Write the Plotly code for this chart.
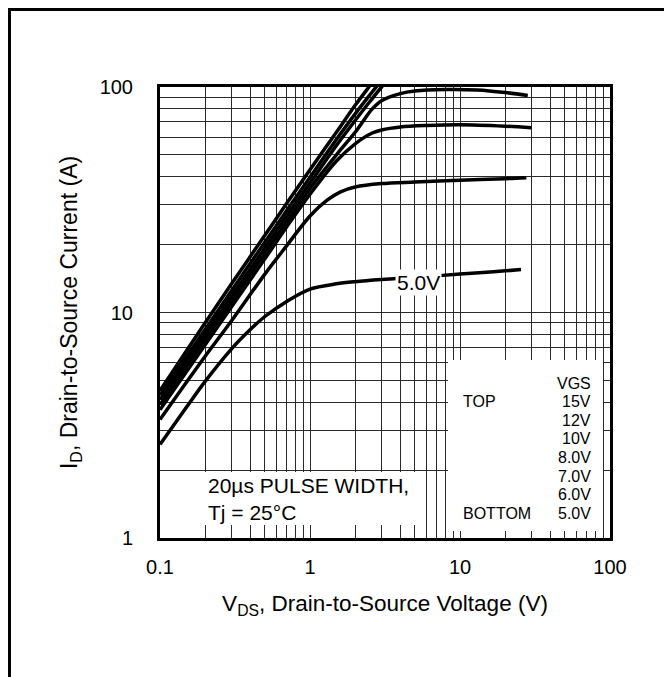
import plotly.graph_objects as go

# ---- data (VDS in V, ID in A) ----
vgs_labels = ["15V", "12V", "10V", "8.0V", "7.0V", "6.0V", "5.0V"]

vds_15v = [0.1, 0.2, 0.3, 0.5, 0.7, 1.0, 1.5, 2.0, 2.5, 3.0, 3.5]
id_15v = [4.5, 9.0, 13.4, 22.0, 30.5, 43.0, 63.0, 83.0, 101.0, 118.0, 133.0]

vds_12v = [0.1, 0.2, 0.3, 0.5, 0.7, 1.0, 1.5, 2.0, 2.5, 3.0, 3.5]
id_12v = [4.3, 8.4, 12.5, 20.5, 28.3, 39.8, 58.5, 76.0, 92.0, 107.0, 120.0]

vds_10v = [0.1, 0.2, 0.3, 0.5, 0.7, 1.0, 1.5, 2.0, 2.5, 3.0, 3.5]
id_10v = [4.1, 8.0, 11.8, 19.3, 26.8, 37.5, 55.0, 71.0, 86.0, 100.0, 112.0]

vds_8v = [0.1, 0.2, 0.3, 0.5, 0.7, 1.0, 1.5, 2.0, 2.6, 3.0, 4.0, 5.0, 8.0, 13.0, 20.0, 28.3]
id_8v = [3.9, 7.6, 11.2, 18.3, 25.3, 35.5, 50.0, 63.0, 80.0, 87.0, 93.5, 96.0, 97.5, 97.0, 94.5, 91.6]

vds_7v = [0.1, 0.2, 0.3, 0.5, 0.7, 1.0, 1.5, 2.0, 2.6, 3.0, 4.0, 6.0, 10.0, 20.0, 29.9]
id_7v = [3.7, 7.2, 10.6, 17.3, 24.0, 33.5, 47.0, 56.0, 62.5, 64.5, 66.5, 67.5, 68.0, 67.0, 66.0]

vds_6v = [0.1, 0.15, 0.2, 0.3, 0.5, 0.7, 1.0, 1.3, 1.6, 2.0, 3.0, 5.0, 10.0, 20.0, 27.7]
id_6v = [3.35, 4.9, 6.4, 9.2, 14.8, 19.8, 26.8, 31.5, 34.3, 36.0, 37.3, 37.9, 38.6, 39.2, 39.6]

vds_5v = [0.1, 0.15, 0.2, 0.3, 0.4, 0.5, 0.7, 1.0, 1.5, 2.0, 3.0, 5.0, 10.0, 15.0, 20.0, 25.5]
id_5v = [2.6, 3.8, 4.95, 6.9, 8.4, 9.6, 11.2, 12.7, 13.4, 13.7, 14.0, 14.3, 14.8, 15.1, 15.3, 15.5]

x_decades = [0.1, 1, 10, 100]
x_decade_labels = ["0.1", "1", "10", "100"]
y_decades = [1, 10, 100]
y_decade_labels = ["1", "10", "100"]
minor_multipliers = [2, 3, 4, 5, 6, 7, 8, 9]

curves = [
    (vds_15v, id_15v), (vds_12v, id_12v), (vds_10v, id_10v), (vds_8v, id_8v),
    (vds_7v, id_7v), (vds_6v, id_6v), (vds_5v, id_5v),
]

FONT = "Liberation Sans, Arial, Helvetica, sans-serif"

fig = go.Figure()
for (xs, ys), name in zip(curves, vgs_labels):
    fig.add_trace(go.Scatter(
        x=xs, y=ys, mode="lines", name=name,
        line=dict(color="black", width=3.5, shape="spline", smoothing=0.9),
        showlegend=False, hoverinfo="skip",
    ))

x_minor = [d * m for d in x_decades[:-1] for m in minor_multipliers]
y_minor = [d * m for d in y_decades[:-1] for m in minor_multipliers]

# page has an 8px body margin; lay out in page pixels
OFF = 8
W, H = 672 - OFF, 677 - OFF
L, R, T, B = 160 - OFF, 62, 87 - OFF, 139
PW, PH = W - L - R, H - T - B

def px(xp):
    return (xp - OFF - L) / PW

def py(yp):
    return (H - B - (yp - OFF)) / PH

GRID = "#2a2a2a"
axis_common = dict(
    type="log",
    tickmode="array",
    showgrid=True, gridcolor=GRID, gridwidth=1,
    showline=True, mirror=True, linecolor="black", linewidth=3,
    ticks="", zeroline=False,
    tickfont=dict(size=20, family=FONT, color="black"),
)

fig.update_layout(
    width=W, height=H, autosize=False,
    margin=dict(l=L, r=R, t=T, b=B, pad=0),
    paper_bgcolor="white", plot_bgcolor="white",
    font=dict(family=FONT, color="black", size=20),
    xaxis=dict(
        **axis_common, range=[-1, 2],
        tickvals=x_decades, ticktext=x_decade_labels,
        minor=dict(tickmode="array", tickvals=x_minor, showgrid=True,
                   gridcolor=GRID, gridwidth=1, ticks=""),
        ticklabelstandoff=9,
        title=dict(text="V<sub>DS</sub>, Drain-to-Source Voltage (V)",
                   font=dict(size=22.5, family=FONT, color="black"), standoff=19),
    ),
    yaxis=dict(
        **axis_common, range=[0, 2],
        tickvals=y_decades, ticktext=y_decade_labels,
        minor=dict(tickmode="array", tickvals=y_minor, showgrid=True,
                   gridcolor=GRID, gridwidth=1, ticks=""),
        ticklabelstandoff=20,
        title=dict(text="I<sub>D</sub>, Drain-to-Source Current (A)",
                   font=dict(size=23, family=FONT, color="black"), standoff=16),
    ),
)

shapes = [
    # outer page border (extends past right/bottom edges)
    dict(type="rect", xref="paper", yref="paper",
         x0=px(9.5), x1=px(720), y0=py(720), y1=py(9.5),
         line=dict(color="black", width=3), fillcolor="rgba(0,0,0,0)", layer="above"),
    # legend box
    dict(type="rect", xref="paper", yref="paper",
         x0=px(448), x1=px(603), y0=py(531), y1=py(360),
         line=dict(width=0), fillcolor="white", layer="above"),
    # pulse-width note box
    dict(type="rect", xref="paper", yref="paper",
         x0=px(201), x1=px(418), y0=py(525), y1=py(472),
         line=dict(width=0), fillcolor="white", layer="above"),
]
fig.update_layout(shapes=shapes)

ann = []
legend_rows = ["VGS"] + vgs_labels
row_y0, row_step = 383, 18.6
for i, t in enumerate(legend_rows):
    ann.append(dict(xref="paper", yref="paper", x=px(593), y=py(row_y0 + i * row_step),
                    text=t, showarrow=False, xanchor="right", yanchor="middle",
                    font=dict(size=16, family=FONT, color="black")))
ann.append(dict(xref="paper", yref="paper", x=px(461), y=py(row_y0 + 1 * row_step),
                text="TOP", showarrow=False, xanchor="left", yanchor="middle",
                font=dict(size=16, family=FONT, color="black")))
ann.append(dict(xref="paper", yref="paper", x=px(461), y=py(row_y0 + 7 * row_step),
                text="BOTTOM", showarrow=False, xanchor="left", yanchor="middle",
                font=dict(size=16, family=FONT, color="black")))
ann.append(dict(xref="paper", yref="paper", x=px(206), y=py(485),
                text="20µs PULSE WIDTH,", showarrow=False, xanchor="left", yanchor="middle",
                font=dict(size=21, family=FONT, color="black")))
ann.append(dict(xref="paper", yref="paper", x=px(206), y=py(512),
                text="Tj = 25°C", showarrow=False, xanchor="left", yanchor="middle",
                font=dict(size=21, family=FONT, color="black")))
ann.append(dict(xref="paper", yref="paper", x=px(418), y=py(282),
                text="5.0V", showarrow=False, xanchor="center", yanchor="middle",
                bgcolor="white", borderpad=1,
                font=dict(size=21, family=FONT, color="black")))
fig.update_layout(annotations=ann)

fig.write_html("out.html")
